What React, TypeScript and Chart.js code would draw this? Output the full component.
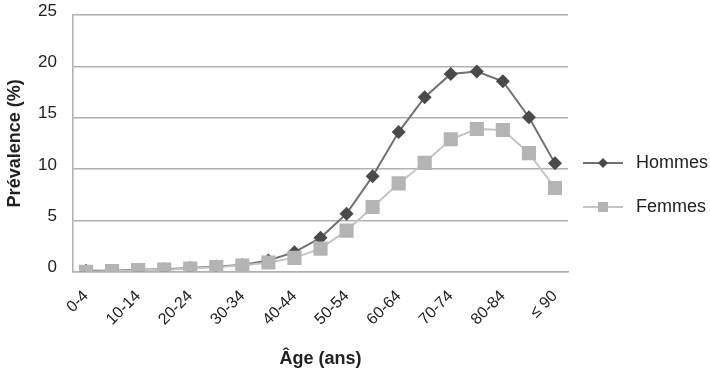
import React, { useEffect, useRef } from "react";
import { Chart, registerables } from "chart.js";

Chart.register(...registerables);

const ageGroups = [
  "0-4", "5-9", "10-14", "15-19", "20-24", "25-29", "30-34", "35-39", "40-44",
  "45-49", "50-54", "55-59", "60-64", "65-69", "70-74", "75-79", "80-84", "85-89", "≤ 90",
];
const hommes = [0.1, 0.1, 0.2, 0.25, 0.35, 0.5, 0.65, 1.1, 1.9, 3.3, 5.65, 9.3, 13.6, 17.0, 19.25, 19.5, 18.55, 15.05, 10.55];
const femmes = [0.0, 0.05, 0.15, 0.2, 0.3, 0.45, 0.6, 0.9, 1.35, 2.25, 4.0, 6.3, 8.6, 10.6, 12.9, 13.9, 13.8, 11.55, 8.15];
const yTicks = [0, 5, 10, 15, 20, 25];

const FONT = "'Liberation Sans', Arial, sans-serif";

const sideLegend = {
  id: "sideLegend",
  afterDraw(chart: any) {
    const ctx = chart.ctx;
    const x0 = chart.chartArea.right + 15;
    const rows = [163, 207];
    chart.data.datasets.forEach((ds: any, i: number) => {
      const y = rows[i];
      ctx.save();
      ctx.strokeStyle = ds.borderColor;
      ctx.lineWidth = 2;
      ctx.beginPath();
      ctx.moveTo(x0, y);
      ctx.lineTo(x0 + 40, y);
      ctx.stroke();
      ctx.fillStyle = ds.pointBackgroundColor;
      const cx = x0 + 20;
      ctx.beginPath();
      if (ds.pointStyle === "rectRot") {
        const r = 5;
        ctx.moveTo(cx - r, y);
        ctx.lineTo(cx, y - r);
        ctx.lineTo(cx + r, y);
        ctx.lineTo(cx, y + r);
        ctx.closePath();
      } else {
        ctx.rect(cx - 5, y - 5, 10, 10);
      }
      ctx.fill();
      ctx.fillStyle = "#222";
      ctx.font = `18px ${FONT}`;
      ctx.textBaseline = "middle";
      ctx.textAlign = "left";
      ctx.fillText(ds.label, x0 + 53, y);
      ctx.restore();
    });
  },
};

export default function App() {
  const ref = useRef<HTMLCanvasElement | null>(null);
  useEffect(() => {
    if (!ref.current) return;
    const chart = new Chart(ref.current, {
      type: "line",
      data: {
        labels: ageGroups,
        datasets: [
          {
            label: "Hommes",
            data: hommes,
            borderColor: "#707070",
            backgroundColor: "#4a4a4a",
            pointBackgroundColor: "#4a4a4a",
            pointBorderColor: "#4a4a4a",
            pointStyle: "rectRot",
            pointRadius: 7,
            pointBorderWidth: 0,
            borderWidth: 2,
            order: 1,
          },
          {
            label: "Femmes",
            data: femmes,
            borderColor: "#c4c4c4",
            backgroundColor: "#b4b4b4",
            pointBackgroundColor: "#b4b4b4",
            pointBorderColor: "#b4b4b4",
            pointStyle: "rect",
            pointRadius: 10,
            pointBorderWidth: 0,
            borderWidth: 2,
            order: 0,
          },
        ],
      },
      options: {
        animation: false,
        responsive: true,
        maintainAspectRatio: false,
        layout: { padding: { left: 0, right: 142, top: 15, bottom: 1 } },
        plugins: {
          legend: { display: false },
          tooltip: { enabled: false },
        },
        scales: {
          x: {
            type: "category",
            offset: true,
            afterFit: (s: any) => {
              s.paddingLeft = 0;
              s.paddingRight = 0;
              s.height = 98.3;
            },
            grid: { display: false, drawTicks: false },
            border: { display: true, color: "#b0b0b0", width: 1.5 },
            ticks: {
              autoSkip: false,
              maxRotation: 45,
              minRotation: 45,
              padding: 15,
              color: "#222",
              font: { family: FONT, size: 16 },
              callback: (_v: any, i: number) => (i % 2 === 0 ? ageGroups[i] : ""),
            },
            title: {
              display: true,
              text: "Âge (ans)",
              color: "#222",
              font: { family: FONT, size: 18, weight: "bold" },
              padding: { top: 0, bottom: 0 },
            },
          },
          y: {
            min: 0,
            max: 25,
            afterFit: (s: any) => {
              s.paddingTop = 0;
              s.paddingBottom = 0;
              s.width = 73;
            },
            afterBuildTicks: (axis: any) => {
              axis.ticks = yTicks.map((v) => ({ value: v }));
            },
            grid: { color: "#b0b0b0", lineWidth: 1.5, drawTicks: false },
            border: { display: true, color: "#b0b0b0", width: 1.5 },
            ticks: {
              padding: 16,
              labelOffset: -4,
              color: "#222",
              font: { family: FONT, size: 17 },
            },
            title: {
              display: true,
              text: "Prévalence (%)",
              color: "#222",
              font: { family: FONT, size: 18, weight: "bold" },
              padding: { top: 4, bottom: 12 },
            },
          },
        },
      },
      plugins: [sideLegend],
    });
    return () => chart.destroy();
  }, []);
  return (
    <div style={{ position: "fixed", left: 0, top: 0, width: 710, height: 371, background: "#fff" }}>
      <canvas ref={ref} />
    </div>
  );
}
